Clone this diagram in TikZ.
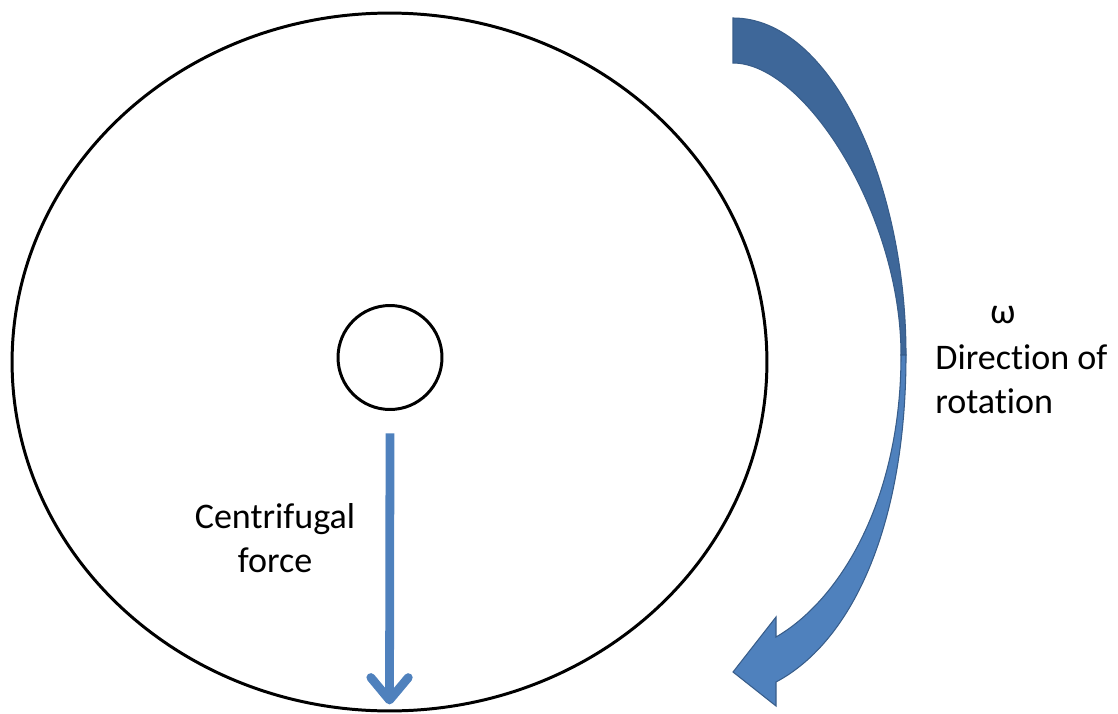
\documentclass[tikz,border=0pt]{standalone}
\usepackage{fontspec}
\setmainfont{Carlito}[Ligatures=NoCommon]
\usepackage{tikz}
\usetikzlibrary{arrows.meta,shapes.geometric}
\definecolor{forceblue}{RGB}{79,129,189}
\definecolor{backblue}{RGB}{62,103,153}
\definecolor{edgeblue}{RGB}{56,93,138}

\begin{document}
\begin{tikzpicture}[x=0.02cm,y=-0.02cm,
  rim/.style={draw, line width=1.7pt, inner sep=0pt},
  force/.style={draw=forceblue, line width=5pt, -{Straight Barb[length=0.45cm,width=0.75cm,round]}},
  txt/.style={font=\fontsize{20.5}{24.5}\selectfont, inner sep=0pt}]
\useasboundingbox (0,0) rectangle (1118,713);
\node[rim, ellipse, minimum width=15.1cm, minimum height=13.96cm] (wheel) at (389.5,362) {};
\node[rim, circle, minimum size=2.08cm] (hub) at (390,357.5) {};
\draw[force] ([yshift=-0.45cm]hub.south) -- ([yshift=0.16cm]wheel.south);
\node[txt, anchor=base, align=center] (cf) at (275,572) {Centrifugal\\force};

% rotation arrow
\draw[fill=backblue, draw=edgeblue, line width=0.6pt] (733,18) .. controls (830,18) and (906,180) .. (906,355)
  -- (901,355) .. controls (901,215) and (805,63) .. (733,63) -- cycle;
\draw[fill=forceblue, draw=edgeblue, line width=0.6pt] (901,355) .. controls (901,500) and (840,600) .. (776,637)
  -- (776,617) -- (733,672) -- (776,706) -- (776,682) .. controls (855,640) and (906,520) .. (906,355) -- cycle;

\node[txt, anchor=base] (omega) at (1003,323) {ω};
\node[txt, anchor=base west, align=left] (dir) at (935,413) {Direction of\\rotation};
\end{tikzpicture}
\end{document}
